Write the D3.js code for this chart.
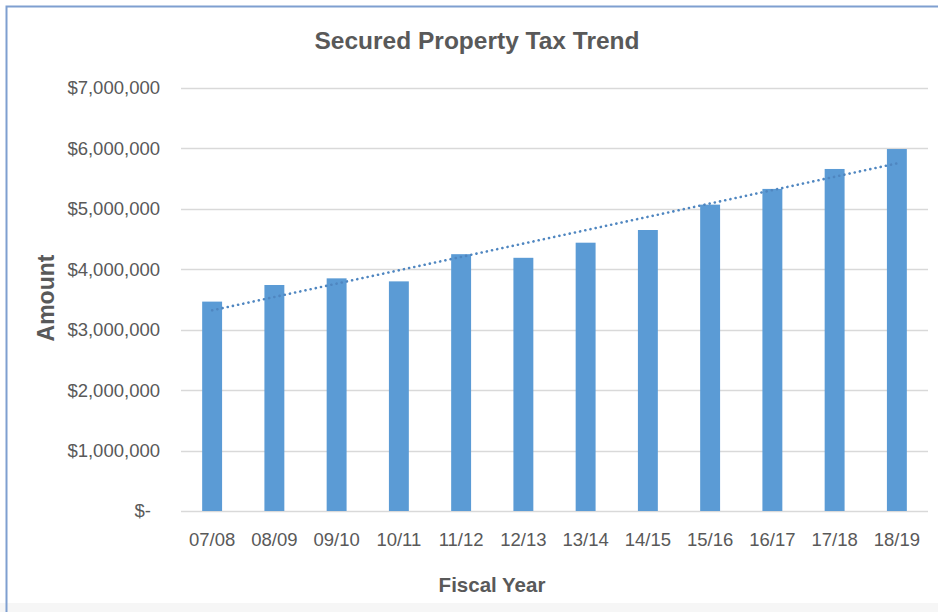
<!DOCTYPE html>
<html>
<head>
<meta charset="utf-8">
<script src="https://cdn.jsdelivr.net/npm/d3@7"></script>
<style>
  body { margin: 0; background: #ffffff; }
  text { font-family: "Liberation Sans", Arial, sans-serif; fill: #595959; }
</style>
</head>
<body>
<div id="chart"></div>
<script>
// Chart data
let years = ["07/08", "08/09", "09/10", "10/11", "11/12", "12/13",
  "13/14", "14/15", "15/16", "16/17", "17/18", "18/19"];
let amounts = [3465000, 3740000, 3850000, 3800000, 4250000, 4190000,
  4440000, 4650000, 5070000, 5330000, 5660000, 5990000];
let yTicks = [0, 1000000, 2000000, 3000000, 4000000, 5000000, 6000000, 7000000];

// SVG area
let svgWidth = 938;
let svgHeight = 612;

let margin = { top: 88, right: 10, bottom: 101, left: 181 };
let width = 928 - margin.left;
let height = 511 - margin.top;

let svg = d3.select("#chart")
  .append("svg")
  .attr("width", svgWidth)
  .attr("height", svgHeight);

// Background + frame
svg.append("rect")
  .attr("x", 0).attr("y", 603)
  .attr("width", svgWidth).attr("height", 9)
  .attr("fill", "#f6f6f6");

svg.append("path")
  .attr("d", `M6.5,${svgHeight} V6.5 H${svgWidth}`)
  .attr("fill", "none")
  .attr("stroke", "#7f9fd0")
  .attr("stroke-width", 2);

let chartGroup = svg.append("g")
  .attr("transform", `translate(${margin.left}, ${margin.top})`);

// Scales
let xScale = d3.scaleBand()
  .domain(years)
  .range([0, width])
  .paddingInner(0.68)
  .paddingOuter(0.34);

let yScale = d3.scaleLinear()
  .domain([0, 7000000])
  .range([height, 0]);

// Gridlines
chartGroup.append("g")
  .selectAll("line")
  .data(yTicks)
  .enter()
  .append("line")
  .attr("x1", 0)
  .attr("x2", width)
  .attr("y1", (d) => Math.round(yScale(d)) + 0.5)
  .attr("y2", (d) => Math.round(yScale(d)) + 0.5)
  .attr("stroke", "#d9d9d9")
  .attr("stroke-width", 1.5);

// Y axis labels
let leftAxis = d3.axisLeft(yScale)
  .tickValues(yTicks)
  .tickSize(0)
  .tickPadding(21)
  .tickFormat((d) => d === 0 ? "$-" : d3.format("$,")(d));

let yAxis = chartGroup.append("g").call(leftAxis);
yAxis.select(".domain").remove();
yAxis.selectAll("text")
  .attr("font-size", "18.5px")
  .attr("fill", "#595959")
  .attr("font-family", "Liberation Sans, Arial, sans-serif");
yAxis.selectAll(".tick")
  .filter((d) => d === 0)
  .select("text")
  .attr("dx", -9);

// X axis labels
let bottomAxis = d3.axisBottom(xScale).tickSize(0).tickPadding(22);
let xAxis = chartGroup.append("g")
  .attr("transform", `translate(0, ${height})`)
  .call(bottomAxis);
xAxis.select(".domain").remove();
xAxis.selectAll("text")
  .attr("font-size", "18.5px")
  .attr("fill", "#595959")
  .attr("font-family", "Liberation Sans, Arial, sans-serif");

// Bars
chartGroup.selectAll("rect.bar")
  .data(amounts)
  .enter()
  .append("rect")
  .classed("bar", true)
  .attr("x", (d, i) => xScale(years[i]))
  .attr("y", (d) => yScale(d))
  .attr("width", xScale.bandwidth())
  .attr("height", (d) => height - yScale(d))
  .attr("fill", "#5b9bd5");

// Linear trendline (least squares)
let n = amounts.length;
let meanX = d3.mean(amounts, (d, i) => i);
let meanY = d3.mean(amounts);
let slope = d3.sum(amounts, (d, i) => (i - meanX) * (d - meanY)) /
  d3.sum(amounts, (d, i) => (i - meanX) * (i - meanX));
let intercept = meanY - slope * meanX;
let trend = [0, n - 1].map((i) => ({ x: years[i], y: intercept + slope * i }));

chartGroup.append("path")
  .datum(trend)
  .attr("d", d3.line()
    .x((d) => xScale(d.x) + xScale.bandwidth() / 2)
    .y((d) => yScale(d.y)))
  .attr("fill", "none")
  .attr("stroke", "#4f86c0")
  .attr("stroke-width", 2.6)
  .attr("stroke-linecap", "round")
  .attr("stroke-dasharray", "0.1,5.2");

// Title
svg.append("text")
  .attr("x", 477)
  .attr("y", 49)
  .attr("text-anchor", "middle")
  .attr("font-size", "24.5px")
  .attr("font-weight", "bold")
  .text("Secured Property Tax Trend");

// Axis titles
svg.append("text")
  .attr("x", 492)
  .attr("y", 592)
  .attr("text-anchor", "middle")
  .attr("font-size", "20.5px")
  .attr("font-weight", "bold")
  .text("Fiscal Year");

svg.append("text")
  .attr("transform", "translate(54, 298) rotate(-90)")
  .attr("text-anchor", "middle")
  .attr("font-size", "23px")
  .attr("font-weight", "bold")
  .text("Amount");
</script>
</body>
</html>
